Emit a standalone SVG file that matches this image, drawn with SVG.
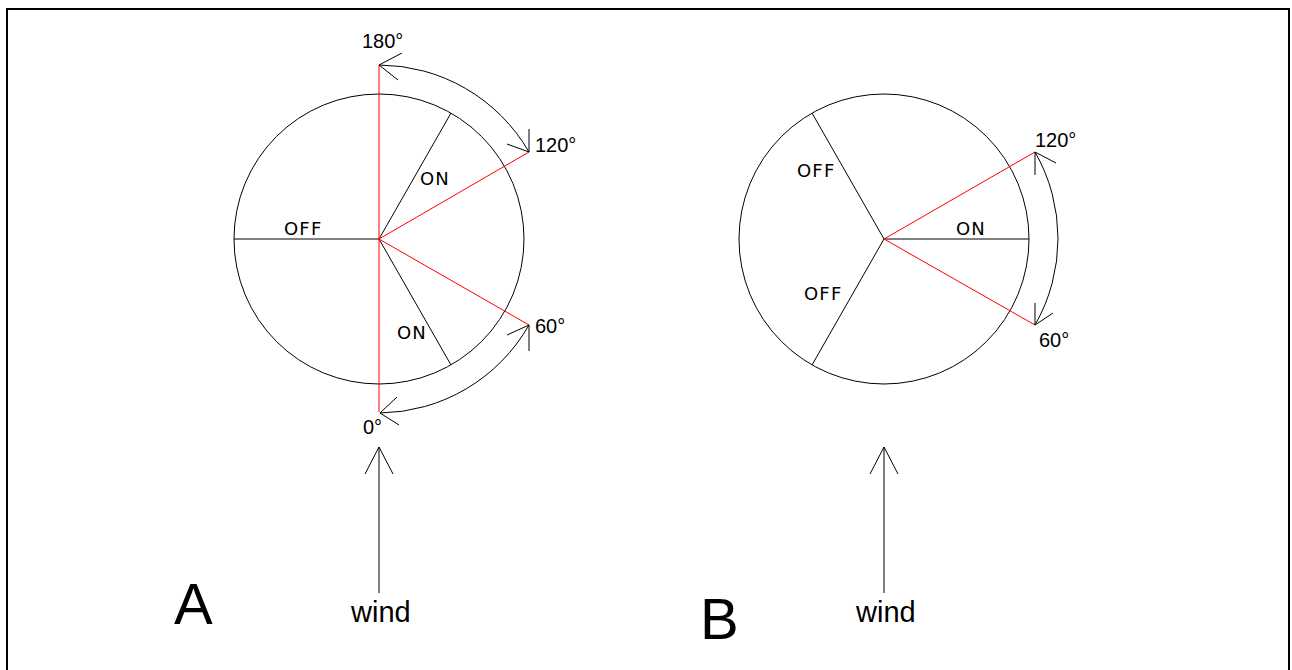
<svg xmlns="http://www.w3.org/2000/svg" width="1292" height="670" viewBox="0 0 1292 670">
<style>
.ln{stroke:#000;stroke-width:1;fill:none}
.rd{stroke:#ff0000;stroke-width:1;fill:none}
.deg{font-family:"Liberation Sans",Arial,sans-serif;font-size:20px;fill:#000}
.lab{font-family:"DejaVu Sans",Verdana,sans-serif;font-size:18px;letter-spacing:1.2px;fill:#000}
.wind{font-family:"Liberation Sans",Arial,sans-serif;font-size:29px;fill:#000}
.big{font-family:"Liberation Sans",Arial,sans-serif;font-size:58px;fill:#000}
</style>
<rect x="0" y="0" width="1292" height="670" fill="#fff"/>
<rect x="7" y="9" width="1282" height="670" fill="none" stroke="#000" stroke-width="2"/>
<g id="diagramA">
<g id="circleA"><circle cx="379" cy="239" r="145" class="ln"/></g>
<g id="sectorsA">
<line x1="379" y1="239" x2="234" y2="239" class="ln"/>
<line x1="379" y1="239" x2="451" y2="113" class="ln"/>
<line x1="379" y1="239" x2="451" y2="365" class="ln"/>
<line x1="379" y1="65" x2="379" y2="412" class="rd"/>
<line x1="379" y1="239" x2="529" y2="152" class="rd"/>
<line x1="379" y1="239" x2="529" y2="325" class="rd"/>
</g>
<g id="labelsA">
<text x="284" y="235" class="lab">OFF</text>
<text x="420" y="185" class="lab">ON</text>
<text x="397" y="339" class="lab">ON</text>
<text x="362" y="48" class="deg">180°</text>
<text x="535" y="152" class="deg">120°</text>
<text x="535" y="333" class="deg">60°</text>
<text x="363" y="434" class="deg">0°</text>
<text x="174" y="624" class="big">A</text>
<text x="351" y="622" class="wind">wind</text>
</g>
</g>
<g id="diagramB">
<g id="circleB"><circle cx="884" cy="239" r="145" class="ln"/></g>
<g id="sectorsB">
<line x1="884" y1="239" x2="1029" y2="239" class="ln"/>
<line x1="884" y1="239" x2="812" y2="113" class="ln"/>
<line x1="884" y1="239" x2="812" y2="365" class="ln"/>
<line x1="884" y1="239" x2="1035" y2="152" class="rd"/>
<line x1="884" y1="239" x2="1035" y2="325" class="rd"/>
</g>
<g id="labelsB">
<text x="797" y="177" class="lab">OFF</text>
<text x="804" y="300" class="lab">OFF</text>
<text x="956" y="235" class="lab">ON</text>
<text x="1035" y="147" class="deg">120°</text>
<text x="1039" y="347" class="deg">60°</text>
<text x="700" y="639" class="big">B</text>
<text x="856" y="622" class="wind">wind</text>
</g>
</g>
<g id="connectors">
<path d="M379 65 A174 174 0 0 1 529 152" class="ln"/>
<path d="M402 53 L379 65 L398 80" class="ln"/>
<path d="M507 144 L529 152 L529 129" class="ln"/>
<path d="M529 325 A174 174 0 0 1 380 413" class="ln"/>
<path d="M507 335 L529 325 L529 351" class="ln"/>
<path d="M397 397 L380 413 L399 425" class="ln"/>
<path d="M1035 152 A174 174 0 0 1 1035 325" class="ln"/>
<path d="M1035 175 L1035 152 L1056 163" class="ln"/>
<path d="M1035 303 L1035 325 L1053 313" class="ln"/>
<path d="M379 593 L379 447" class="ln"/>
<path d="M365 474 L379 447 L393 474" class="ln"/>
<path d="M884 593 L884 447" class="ln"/>
<path d="M870 474 L884 447 L898 474" class="ln"/>
</g>
</svg>
